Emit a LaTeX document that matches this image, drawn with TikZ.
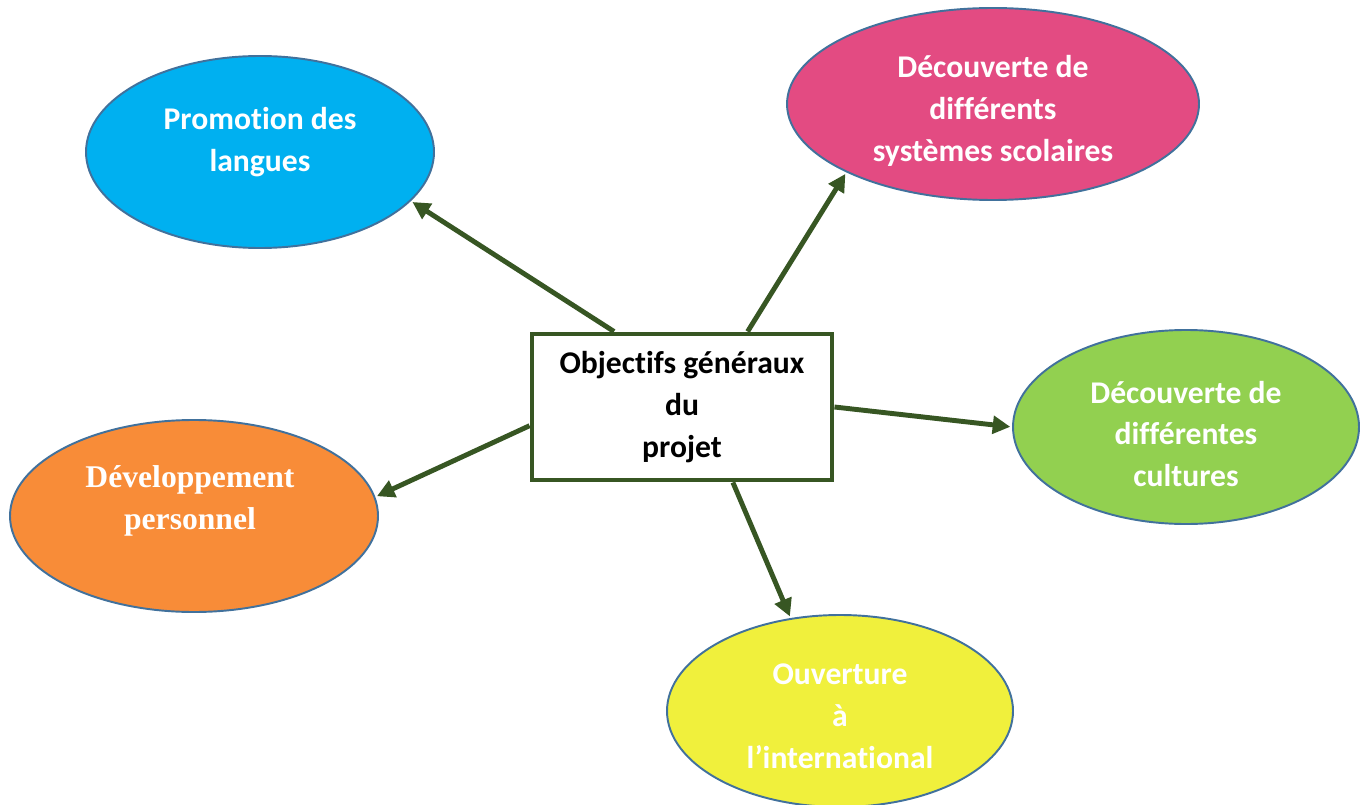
\documentclass[tikz,border=0pt]{standalone}
\usepackage{fontspec}
\setmainfont[Ligatures=NoCommon]{Carlito}
\newfontfamily\timesfont{Liberation Serif}
\usepackage{xcolor}
\usetikzlibrary{arrows.meta,shapes.geometric}

\definecolor{arrowgreen}{HTML}{375623}
\definecolor{rimblue}{HTML}{41719C}
\definecolor{skyblue}{HTML}{00B0F0}
\definecolor{rosepink}{HTML}{E34B82}
\definecolor{leafgreen}{HTML}{92D050}
\definecolor{sunorange}{HTML}{F88C38}
\definecolor{lemon}{HTML}{F0F03C}

\newlength{\xu}
\setlength{\xu}{0.02cm}
\tikzset{
bubble/.style={ellipse, draw=rimblue, line width=1.1pt, inner sep=0pt},
bubbletext/.style={align=center, text=white, font=\fontsize{18}{23.8}\selectfont\bfseries},
goalbox/.style={draw=arrowgreen, line width=2.8pt, fill=white, minimum width=300\xu, minimum height=146\xu, align=center, font=\fontsize{18}{23.8}\selectfont\bfseries},
link/.style={draw=arrowgreen, line width=2.8pt, -{Triangle[length=10pt,width=10pt]}, shorten >=1pt}
}

\begin{document}
\begin{tikzpicture}[x=0.02cm,y=-0.02cm]
\useasboundingbox (0,0) rectangle (1368,804);

% ellipses
\node[bubble, fill=skyblue, minimum width=348\xu, minimum height=192\xu] (promo) at (260,152) {};
\node[bubble, fill=rosepink, minimum width=412\xu, minimum height=192\xu] (systemes) at (993,104) {};
\node[bubble, fill=leafgreen, minimum width=346\xu, minimum height=194\xu] (cultures) at (1186,427) {};
\node[bubble, fill=sunorange, minimum width=368\xu, minimum height=192\xu] (perso) at (194,516) {};
\node[bubble, fill=lemon, minimum width=346\xu, minimum height=192\xu] (ouverture) at (840,711) {};

\node[bubbletext] (promotxt) at (260,142) {Promotion des\\langues};
\node[bubbletext] (systemestxt) at (993,111) {Découverte de\\différents\\systèmes scolaires};
\node[bubbletext] (culturestxt) at (1186,434) {Découverte de\\différentes\\cultures};
\node[bubbletext, font=\fontsize{18}{23.8}\selectfont\timesfont\bfseries] (persotxt) at (190,501) {Développement\\personnel};
\node[bubbletext] (ouverturetxt) at (840,716) {Ouverture\\à\\l’international};

% centre
\node[goalbox] (centre) at (682,407) {Objectifs généraux\\du\\projet};

\draw[link] (centre.132) -- (promo.-18);
\draw[link] (centre.49) -- (systemes.205);
\draw[link] (centre.0) -- (cultures.180);
\draw[link] (centre.187) -- (perso.6);
\draw[link] (centre.-56) -- (ouverture.118);

\end{tikzpicture}
\end{document}
